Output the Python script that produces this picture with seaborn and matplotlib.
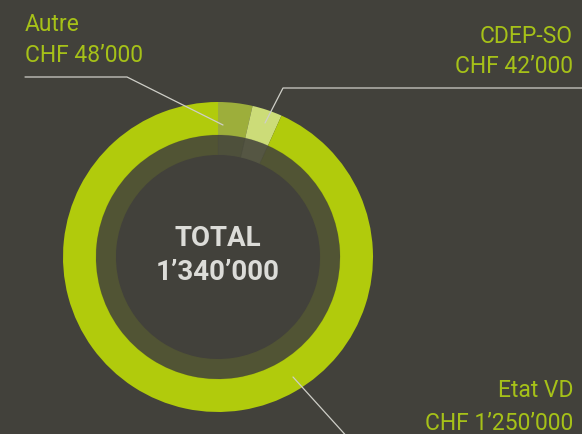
import numpy as np
import matplotlib
matplotlib.use("Agg")
import matplotlib.pyplot as plt
import seaborn as sns

# ------------------------------------------
# Daten
# ------------------------------------------
sources = ["Autre", "CDEP-SO", "Etat VD"]
amounts = [48000, 42000, 1250000]
amount_labels = ["CHF 48’000", "CHF 42’000", "CHF 1’250’000"]
total_label = "1’340’000"

# ------------------------------------------
# Farben / Stil
# ------------------------------------------
bg = "#42413B"
ring_colors = sns.color_palette(["#9DAE3B", "#CCDC78", "#B1CB0C"])
text_green = "#A6C118"
line_col = "#CFCFC8"

sns.set_style("dark", {"axes.facecolor": bg, "figure.facecolor": bg})
plt.rcParams["font.family"] = ["Roboto", "DejaVu Sans"]

W, H = 582, 434
fig = plt.figure(figsize=(W / 100, H / 100), dpi=100)
ax = fig.add_axes([0, 0, 1, 1])
ax.set_xlim(0, W)
ax.set_ylim(0, H)
ax.set_axis_off()

cx, cy = 218, H - 257
r_out, r_mid, r_in = 155, 122, 102

# aeusserer Ring
ax.pie(amounts, colors=ring_colors, radius=r_out, center=(cx, cy),
       startangle=90, counterclock=False, frame=True,
       wedgeprops=dict(width=r_out - r_mid, linewidth=0))
# innerer Ring (gedimmt)
ax.pie(amounts, colors=ring_colors, radius=r_mid, center=(cx, cy),
       startangle=90, counterclock=False, frame=True,
       wedgeprops=dict(width=r_mid - r_in, linewidth=0.6, edgecolor=bg, alpha=0.14))
ax.set_xlim(0, W)
ax.set_ylim(0, H)
ax.set_axis_off()

# Leader-Linien
ax.plot([25, 127, 223], [H - 77, H - 77, H - 125], color=line_col, lw=0.9)
ax.plot([W, 283, 265], [H - 88, H - 88, H - 123], color=line_col, lw=0.9)
ax.plot([293, 350], [H - 377, H - 440], color=line_col, lw=0.9, clip_on=False)

# Beschriftungen
fs = 16.5
ax.text(25, H - 31, sources[0], color=text_green, fontsize=fs, ha="left", va="baseline")
ax.text(25, H - 62, amount_labels[0], color=text_green, fontsize=fs, ha="left", va="baseline")
ax.text(573, H - 43, sources[1], color=text_green, fontsize=fs, ha="right", va="baseline")
ax.text(573, H - 73, amount_labels[1], color=text_green, fontsize=fs, ha="right", va="baseline")
ax.text(573, H - 397, sources[2], color=text_green, fontsize=fs, ha="right", va="baseline")
ax.text(573, H - 430, amount_labels[2], color=text_green, fontsize=fs, ha="right", va="baseline")

ax.text(cx, H - 246, "TOTAL", color="#DCDCD8", fontsize=20, fontweight="bold",
        ha="center", va="baseline")
ax.text(cx, H - 280, total_label, color="#DCDCD8", fontsize=20, fontweight="bold",
        ha="center", va="baseline")

fig.savefig("out.png", dpi=100, facecolor=bg)
